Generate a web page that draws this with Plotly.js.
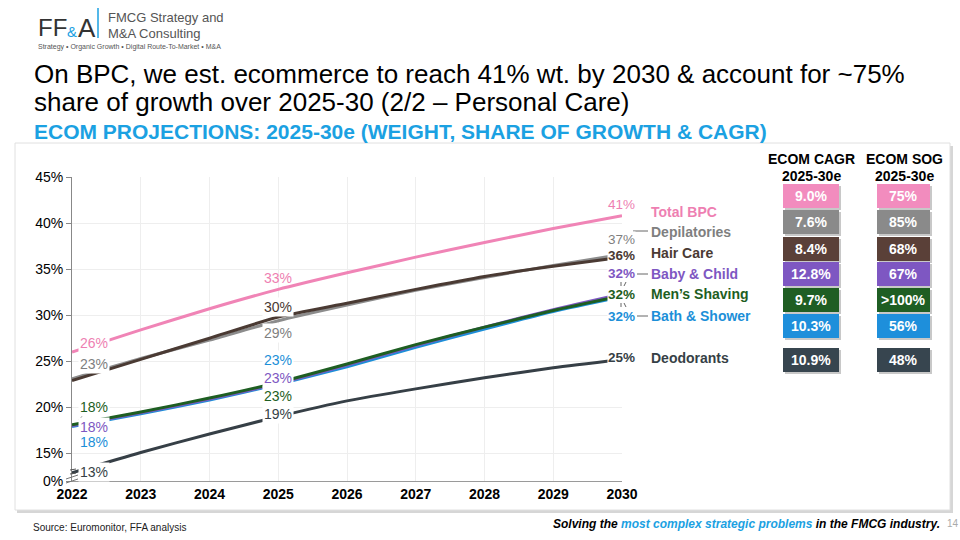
<!DOCTYPE html>
<html>
<head>
<meta charset="utf-8">
<script src="https://cdn.plot.ly/plotly-3.0.1.min.js"></script>
<style>
html,body{margin:0;padding:0;background:#fff;}
#chart{width:960px;height:540px;}
</style>
</head>
<body>
<div id="chart"></div>
<script>
// ---------------- DATA ----------------
const years = [2022, 2023, 2024, 2025, 2026, 2027, 2028, 2029, 2030];
const seriesNames = ["Total BPC", "Depilatories", "Hair Care", "Baby & Child", "Men\u2019s Shaving", "Bath & Shower", "Deodorants"];
const totalBPC     = [26.0, 28.4, 30.7, 32.8, 34.6, 36.3, 37.9, 39.4, 40.8];
const depilatories = [23.1, 25.3, 27.3, 29.4, 31.1, 32.7, 34.1, 35.4, 36.6];
const hairCare     = [22.9, 25.2, 27.5, 29.8, 31.3, 32.8, 34.2, 35.3, 36.3];
const babyChild    = [18.0, 19.4, 20.9, 22.6, 24.6, 26.7, 28.7, 30.6, 32.3];
const mensShaving  = [18.1, 19.5, 21.0, 22.7, 24.7, 26.8, 28.7, 30.5, 32.1];
const bathShower   = [17.9, 19.3, 20.8, 22.5, 24.4, 26.5, 28.5, 30.4, 32.0];
const deodorants   = [12.9, 15.1, 17.1, 19.0, 20.7, 22.0, 23.2, 24.3, 25.2];
const ecomCagr = ["9.0%", "7.6%", "8.4%", "12.8%", "9.7%", "10.3%", "10.9%"];
const ecomSog  = ["75%", "85%", "68%", "67%", ">100%", "56%", "48%"];
const yTickVals  = [12, 15, 20, 25, 30, 35, 40, 45];
const yTickText  = ["0%", "15%", "20%", "25%", "30%", "35%", "40%", "45%"];

// ---------------- STYLE ----------------
const seriesValues = [totalBPC, depilatories, hairCare, babyChild, mensShaving, bathShower, deodorants];
const lineColors  = ["#F084B6", "#8C8C8C", "#4A3A33", "#7E57C2", "#1E5E22", "#1C8FD8", "#363F46"];
const textColors  = ["#EE7FB2", "#7F7F7F", "#4A3A33", "#7E57C2", "#1E5E22", "#1C8FD8", "#363F46"];
const boxColors   = ["#F28CBE", "#8A8A8A", "#5A4038", "#7E57C2", "#1F5E23", "#1E8FDB", "#37454F"];
const drawOrder = [6, 1, 2, 5, 3, 4, 0];
const FONT = "Liberation Sans, Arial, sans-serif";

const px = x => x / 960;
const py = y => 1 - y / 540;

const traces = drawOrder.map(i => ({
  x: years, y: seriesValues[i], type: "scatter", mode: "lines",
  name: seriesNames[i],
  line: {color: lineColors[i], width: 3, shape: "spline", smoothing: 0.6},
  hoverinfo: "skip"
}));

const pct = v => Math.round(v) + "%";
const ann = [];
const shapes = [];

function txt(x, y, text, opt) {
  opt = opt || {};
  ann.push(Object.assign({
    xref: "paper", yref: "paper", x: px(x), y: py(y), text: text, showarrow: false,
    xanchor: opt.xa || "left", yanchor: "middle",
    font: {family: opt.family || FONT, size: opt.size || 14, color: opt.color || "#000"},
    bgcolor: opt.bg || "rgba(0,0,0,0)", borderpad: opt.pad === undefined ? 0 : opt.pad
  }, opt.extra || {}));
}
function seg(x0, y0, x1, y1, color, w) {
  shapes.push({type: "line", xref: "paper", yref: "paper", x0: px(x0), x1: px(x1), y0: py(y0), y1: py(y1), line: {color: color || "#666", width: w || 1}});
}

// Header / logo
txt(37, 27, "FF", {size: 24, color: "#333"});
txt(66, 32, "&amp;", {size: 15, color: "#1BA1E2"});
txt(77, 28, "A", {size: 26, color: "#333"});
seg(98, 8, 98, 38, "#1BA1E2", 1.5);
txt(107, 18, "FMCG Strategy and", {size: 13, color: "#555"});
txt(107, 33, "M&amp;A Consulting", {size: 13, color: "#555"});
txt(37, 47, "Strategy \u2022 Organic Growth \u2022 Digital Route-To-Market \u2022 M&amp;A", {size: 7, color: "#555"});

// Titles
txt(33, 74, "On BPC, we est. ecommerce to reach 41% wt. by 2030 &amp; account for ~75%", {size: 26});
txt(33, 102, "share of growth over 2025-30 (2/2 \u2013 Personal Care)", {size: 26});
txt(33, 131, "<b>ECOM PROJECTIONS: 2025-30e (WEIGHT, SHARE OF GROWTH &amp; CAGR)</b>", {size: 21, color: "#1BA1E2"});

// Panel with shadow
shapes.push({type: "rect", xref: "paper", yref: "paper", x0: px(17), x1: px(953), y0: py(513), y1: py(146), line: {width: 0}, fillcolor: "#d6d6d6", layer: "below"});
shapes.push({type: "rect", xref: "paper", yref: "paper", x0: px(15), x1: px(950), y0: py(510), y1: py(143), line: {color: "#e0e0e0", width: 1}, fillcolor: "#ffffff", layer: "below"});

// Axis break marks
seg(66, 479, 78, 475, "#777");
seg(66, 483, 78, 479, "#777");

// Labels at 2022
const leftY = [343, 364, 427, 407, 442, 472];
const leftIdx = [0, 1, 3, 4, 5, 6];
leftIdx.forEach((i, k) => {
  txt(78, leftY[k], pct(seriesValues[i][0]), {color: textColors[i], bg: "#fff", pad: 1});
});
seg(79, 420, 83, 415, "#666");
seg(70, 470, 76, 469, "#555");
seg(70, 474, 76, 473, "#555");

// Labels at 2025
const midY = [278, 333, 307, 378, 396, 360, 414];
seriesValues.forEach((s, i) => {
  txt(278, midY[i], pct(s[3]), {xa: "center", color: textColors[i], bg: i === 0 ? "rgba(0,0,0,0)" : "#fff", pad: 1});
});
seg(278, 367, 278, 371, "#666");

// Labels at 2030 (value + category)
const rightY = [204, 239, 255, 273, 294, 316, 357];
const nameY  = [212, 232, 253, 274, 294, 316, 358];
const rightBold = [false, false, true, true, true, true, true];
seriesValues.forEach((s, i) => {
  const v = pct(s[s.length - 1]);
  txt(636, rightY[i], rightBold[i] ? "<b>" + v + "</b>" : v, {xa: "right", size: 13.5, color: textColors[i], bg: "#fff", pad: 0});
  txt(650, nameY[i], "<b>" + seriesNames[i] + "</b>", {color: textColors[i]});
});
// small connector dashes
seg(633, 231, 648, 231);
seg(637, 274, 648, 274);
seg(637, 316, 648, 316);
seg(621, 282, 621, 286);
seg(624, 286, 626, 282);
seg(621, 303, 621, 307);
seg(624, 303, 626, 307);

// Table headers
txt(811, 159, "<b>ECOM CAGR</b>", {xa: "center", size: 14});
txt(811, 176, "<b>2025-30e</b>", {xa: "center", size: 14});
txt(904, 159, "<b>ECOM SOG</b>", {xa: "center", size: 14});
txt(904, 176, "<b>2025-30e</b>", {xa: "center", size: 14});

// Table boxes
const boxTop = [184, 210, 237, 262, 288, 314, 348];
const boxH = 24;
seriesValues.forEach((s, i) => {
  const t = boxTop[i];
  [[783, 839, ecomCagr[i]], [877, 930, ecomSog[i]]].forEach(b => {
    shapes.push({type: "rect", xref: "paper", yref: "paper", x0: px(b[0] + 2), x1: px(b[1] + 2), y0: py(t + boxH + 2), y1: py(t + 2), line: {width: 0}, fillcolor: "#c8c8c8", layer: "below"});
    shapes.push({type: "rect", xref: "paper", yref: "paper", x0: px(b[0]), x1: px(b[1]), y0: py(t + boxH), y1: py(t), line: {width: 0}, fillcolor: boxColors[i]});
    txt((b[0] + b[1]) / 2, t + boxH / 2, "<b>" + b[2] + "</b>", {xa: "center", size: 14, color: "#fff"});
  });
});

// Footer
txt(32, 527, "Source: Euromonitor, FFA analysis", {size: 10, color: "#222"});
txt(941, 524, "<b><i>Solving the <span style='color:#1BA1E2'>most complex strategic problems</span> in the FMCG industry.</i></b>", {xa: "right", size: 12});
txt(946, 523, "14", {size: 10, color: "#aaa"});

const layout = {
  width: 960, height: 540,
  margin: {l: 0, r: 0, t: 0, b: 0},
  paper_bgcolor: "#fff", plot_bgcolor: "rgba(0,0,0,0)",
  showlegend: false,
  font: {family: FONT, color: "#000"},
  xaxis: {
    domain: [px(72), px(622)], range: [2022, 2030],
    tickvals: years, ticktext: years.map(String),
    tickfont: {family: FONT, size: 14, color: "#000", weight: "bold"},
    showgrid: true, gridcolor: "#eeeeee", gridwidth: 1,
    showline: true, linecolor: "#9a9a9a", linewidth: 1,
    ticks: "", zeroline: false, fixedrange: true
  },
  yaxis: {
    domain: [py(481), py(177)], range: [12, 45],
    tickvals: yTickVals, ticktext: yTickText,
    tickfont: {family: FONT, size: 14, color: "#000"},
    showgrid: true, gridcolor: "#eeeeee", gridwidth: 1,
    showline: true, linecolor: "#888", linewidth: 1,
    ticks: "outside", ticklen: 5, tickcolor: "#888",
    zeroline: false, fixedrange: true
  },
  shapes: shapes,
  annotations: ann
};

Plotly.newPlot("chart", traces, layout, {displayModeBar: false, staticPlot: true});
</script>
</body>
</html>
